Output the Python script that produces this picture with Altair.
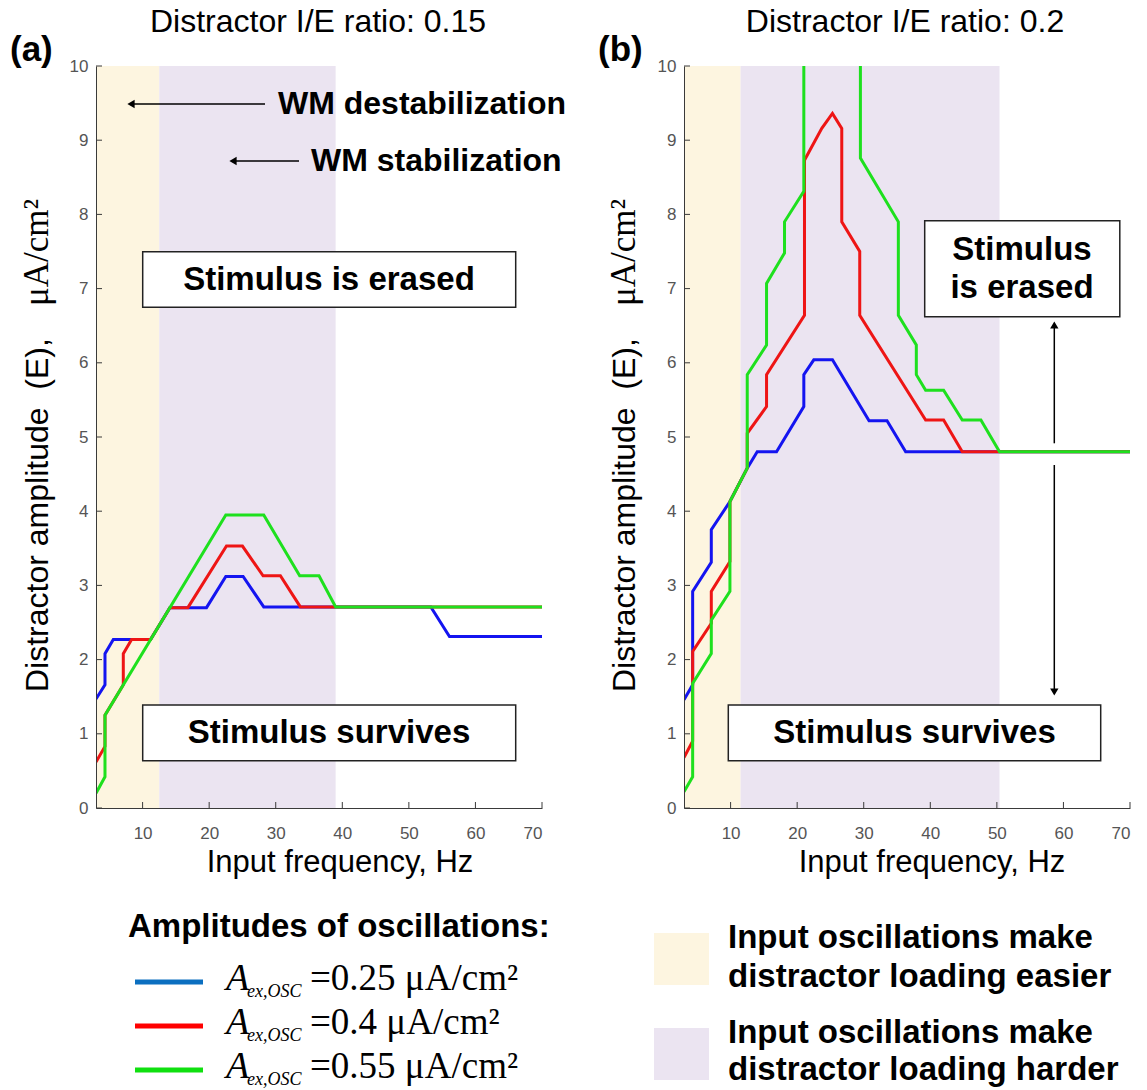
import altair as alt
import pandas as pd

# ---------------------------------------------------------------------------
# Contour traces: input frequency (Hz) vs distractor amplitude (uA/cm^2)
# ---------------------------------------------------------------------------
# (a) distractor I/E ratio 0.15
a_blue_f = [3, 4.35, 4.35, 5.6, 11.2, 14.1, 19.6, 22.5, 25.1, 28.2, 53.3, 56.1, 70]
a_blue_v = [1.47, 1.66, 2.08, 2.27, 2.27, 2.7, 2.7, 3.12, 3.12, 2.71, 2.71, 2.31, 2.31]
a_red_f = [3, 4.35, 4.35, 7.1, 7.1, 8.35, 11.2, 14.1, 16.8, 22.6, 25.0, 28.1, 30.7, 33.7, 70]
a_red_v = [0.62, 0.83, 1.25, 1.66, 2.08, 2.27, 2.27, 2.7, 2.7, 3.53, 3.53, 3.13, 3.13, 2.71, 2.71]
a_green_f = [3, 4.35, 4.35, 22.5, 28.2, 33.6, 36.5, 39.0, 70]
a_green_v = [0.2, 0.42, 1.25, 3.95, 3.95, 3.13, 3.13, 2.71, 2.71]

# (b) distractor I/E ratio 0.2
b_blue_f = [3, 4.3, 4.3, 7.1, 7.1, 9.9, 12.5, 14.0, 16.9, 21.0, 21.0, 22.5, 25.3,
            30.8, 33.5, 36.3, 70]
b_blue_v = [1.46, 1.66, 2.92, 3.31, 3.75, 4.13, 4.58, 4.8, 4.8, 5.41, 5.84, 6.04, 6.04,
            5.22, 5.22, 4.8, 4.8]
b_red_f = [3, 4.3, 4.3, 7.1, 7.1, 9.9, 9.9, 12.5, 12.5, 15.4, 15.4, 21.1, 21.1, 23.7,
           25.3, 26.7, 26.7, 29.4, 29.4, 39.3, 42.0, 44.8, 70]
b_red_v = [0.68, 0.9, 2.11, 2.49, 2.92, 3.32, 4.13, 4.58, 5.05, 5.41, 5.84, 6.64, 8.73,
           9.16, 9.36, 9.16, 7.9, 7.5, 6.64, 5.23, 5.23, 4.8, 4.8]
# green contour leaves the top of the axes between ~21 and ~29.5 Hz
b_green_left_f = [3, 4.3, 4.3, 7.1, 7.1, 9.9, 9.9, 12.5, 12.5, 15.4, 15.4, 18.1, 18.1,
                  21.0, 21.0]
b_green_left_v = [0.22, 0.42, 1.68, 2.08, 2.53, 2.92, 4.13, 4.58, 5.84, 6.24, 7.07, 7.48,
                  7.9, 8.31, 10.0]
b_green_right_f = [29.5, 29.5, 35.2, 35.2, 37.9, 37.9, 39.3, 42.0, 44.8, 47.6, 50.4, 70]
b_green_right_v = [10.0, 8.76, 7.9, 6.64, 6.24, 5.84, 5.63, 5.63, 5.23, 5.23, 4.8, 4.8]

# shaded frequency bands: [start, end] in Hz
a_easier = [3, 12.5]
a_harder = [12.5, 39.0]
b_easier = [3, 11.5]
b_harder = [11.5, 50.4]

x_ticks = [10, 20, 30, 40, 50, 60, 70]
y_ticks = [0, 1, 2, 3, 4, 5, 6, 7, 8, 9, 10]

amp_labels = ["0.25", "0.4", "0.55"]
panel_titles = ["Distractor I/E ratio: 0.15", "Distractor I/E ratio: 0.2"]

BLUE, RED, GREEN = "#1414f0", "#ee1515", "#1ee01e"
LEG_COLORS = ["#0b6fc0", "#ff0000", "#10e010"]
EASY, HARD = "#fdf5e0", "#ebe4f1"

SANS = "Liberation Sans, Arial, Helvetica, sans-serif"
SERIF = "Liberation Serif, Times New Roman, serif"

W, H = 446, 742
one = pd.DataFrame({"k": [0]})

xs = alt.Scale(domain=[3, 70], nice=False, zero=False)
ys = alt.Scale(domain=[0, 10], nice=False, zero=False)

AXIS_STYLE = dict(ticks=False, grid=False, labelFontSize=17, labelFont=SANS,
                  labelColor="#555", domainColor="#3a3a3a", format="d", zindex=2)


def trace_df(f, v, seg=0):
    return pd.DataFrame({"f": f, "v": v, "i": list(range(len(f))), "seg": seg})


def line(df, color):
    return alt.Chart(df).mark_line(color=color, strokeWidth=3, clip=True).encode(
        x=alt.X("f:Q", scale=xs,
                axis=alt.Axis(values=x_ticks, title=None, labelPadding=17, **AXIS_STYLE)),
        y=alt.Y("v:Q", scale=ys,
                axis=alt.Axis(values=y_ticks, title=None, labelPadding=8, **AXIS_STYLE)),
        detail="seg:N",
        order="i:Q",
    )


def band(lims, color):
    df = pd.DataFrame({"x0": [lims[0]], "x1": [lims[1]]})
    return alt.Chart(df).mark_rect(color=color).encode(
        x=alt.X("x0:Q", scale=xs), x2="x1:Q", y=alt.value(0), y2=alt.value(H))


def tick_marks():
    # inward-pointing ticks
    xt = alt.Chart(pd.DataFrame({"t": x_ticks})).mark_rule(color="#3a3a3a").encode(
        x=alt.X("t:Q", scale=xs), y=alt.value(H), y2=alt.value(H - 6))
    yt = alt.Chart(pd.DataFrame({"t": y_ticks})).mark_rule(color="#3a3a3a").encode(
        y=alt.Y("t:Q", scale=ys), x=alt.value(0), x2=alt.value(6))
    return [xt, yt]


def text(s, x, y, size, weight="normal", font=SANS, align="left", baseline="middle",
         angle=0, style="normal", color="black"):
    return alt.Chart(one).mark_text(
        text=s, fontSize=size, fontWeight=weight, font=font, align=align,
        baseline=baseline, angle=angle, fontStyle=style, color=color,
    ).encode(x=alt.value(x), y=alt.value(y))


def box(x1, x2, y1, y2):
    return alt.Chart(one).mark_rect(fill="white", stroke="#222", strokeWidth=1.5).encode(
        x=alt.value(x1), x2=alt.value(x2), y=alt.value(y1), y2=alt.value(y2))


def hrule(x1, x2, y, color="black", width=1.5):
    return alt.Chart(one).mark_rule(color=color, strokeWidth=width).encode(
        x=alt.value(x1), x2=alt.value(x2), y=alt.value(y))


def vrule(x, y1, y2, color="black", width=1.5):
    return alt.Chart(one).mark_rule(color=color, strokeWidth=width).encode(
        x=alt.value(x), y=alt.value(y1), y2=alt.value(y2))


def head(x, y, shape):
    return alt.Chart(one).mark_point(shape=shape, filled=True, color="black",
                                     size=70, opacity=1).encode(
        x=alt.value(x), y=alt.value(y))


def y_title(x):
    # rotated axis label: sans words followed by the serif unit
    return [
        text("Distractor amplitude\u00a0\u00a0(E),", x, 626, 32, angle=270),
        text("\u03bcA/cm\u00b2", x - 1, 240, 35, font=SERIF, angle=270),
    ]


XTITLE = "Input frequency,  Hz"

# ---------------------------- panel (a) ------------------------------------
layers_a = [
    # invisible frame spanning the whole figure
    alt.Chart(one).mark_rect(fill="white", fillOpacity=0).encode(
        x=alt.value(-96), x2=alt.value(1051), y=alt.value(-66), y2=alt.value(1024)),
    band(a_easier, EASY), band(a_harder, HARD),
    line(trace_df(a_blue_f, a_blue_v), BLUE),
    line(trace_df(a_red_f, a_red_v), RED),
    line(trace_df(a_green_f, a_green_v), GREEN),
    *tick_marks(),
    text(panel_titles[0], 222, -44, 32, align="center"),
    text("(a)", -86, -16, 35, weight="bold"),
    *y_title(-58),
    text(XTITLE, 244, 797, 31, align="center"),
    # WM annotations
    hrule(35, 169, 38), head(35, 38, "triangle-left"),
    text("WM destabilization", 182, 38, 32, weight="bold"),
    hrule(137, 203, 95), head(137, 95, "triangle-left"),
    text("WM stabilization", 215, 95, 32, weight="bold"),
    box(46.7, 419.7, 185.7, 241.3),
    text("Stimulus is erased", 233, 213.5, 33, weight="bold", align="center"),
    box(46.7, 419.7, 639, 694.7),
    text("Stimulus survives", 233, 667, 33, weight="bold", align="center"),
    # oscillation-amplitude legend
    text("Amplitudes of oscillations:", 32, 861, 33, weight="bold"),
]
for k, (lab, col) in enumerate(zip(amp_labels, LEG_COLORS)):
    dy = k * 44
    layers_a += [
        hrule(39, 107, 916 + dy, color=col, width=5),
        text("A", 130, 924 + dy, 38, font=SERIF, style="italic", baseline="alphabetic"),
        text("ex,OSC", 151, 931 + dy, 18, font=SERIF, style="italic", baseline="alphabetic"),
        text("=" + lab + " \u03bcA/cm\u00b2", 214, 924 + dy, 37, font=SERIF,
             baseline="alphabetic"),
    ]

panel_a = alt.layer(*layers_a).properties(width=W, height=H)

# ---------------------------- panel (b) ------------------------------------
layers_b = [
    band(b_easier, EASY), band(b_harder, HARD),
    line(trace_df(b_blue_f, b_blue_v), BLUE),
    line(trace_df(b_red_f, b_red_v), RED),
    line(pd.concat([trace_df(b_green_left_f, b_green_left_v, 0),
                    trace_df(b_green_right_f, b_green_right_v, 1)]), GREEN),
    *tick_marks(),
    text(panel_titles[1], 221, -44, 32, align="center"),
    text("(b)", -86, -16, 35, weight="bold"),
    *y_title(-59),
    text(XTITLE, 248, 797, 31, align="center"),
    box(240.7, 435.8, 154.7, 250.7),
    text("Stimulus", 338, 184, 33, weight="bold", align="center"),
    text("is erased", 338, 221.7, 33, weight="bold", align="center"),
    box(44.3, 416.7, 639, 694.7),
    text("Stimulus survives", 230.5, 667, 33, weight="bold", align="center"),
    # double arrow separating the two regimes
    vrule(370.3, 377.3, 262), head(370.3, 259, "triangle-up"),
    vrule(370.3, 399, 623), head(370.3, 626, "triangle-down"),
    # band legend
    alt.Chart(one).mark_rect(fill=EASY).encode(
        x=alt.value(-30), x2=alt.value(25), y=alt.value(867), y2=alt.value(919)),
    alt.Chart(one).mark_rect(fill=HARD).encode(
        x=alt.value(-30), x2=alt.value(25), y=alt.value(962), y2=alt.value(1014)),
    text("Input oscillations make", 44, 872, 33, weight="bold"),
    text("distractor loading easier", 44, 911, 33, weight="bold"),
    text("Input oscillations make", 44, 967, 33, weight="bold"),
    text("distractor loading harder", 44, 1004, 33, weight="bold"),
]

panel_b = alt.layer(*layers_b).properties(width=W, height=H)

chart = alt.hconcat(panel_a, panel_b, spacing=142, bounds="flush").properties(
    padding=0
).configure_view(strokeWidth=0).configure_axis(grid=False)

chart.save("out.html", embed_options={"renderer": "svg", "actions": False})
